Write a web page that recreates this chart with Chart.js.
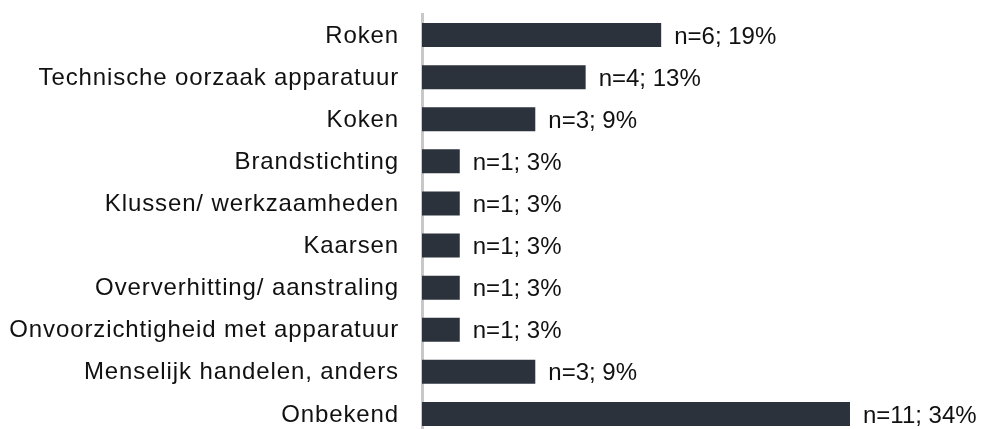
<!DOCTYPE html>
<html>
<head>
<meta charset="utf-8">
<script src="https://cdn.jsdelivr.net/npm/chart.js@4.4.0/dist/chart.umd.min.js"></script>
<style>
  html, body { margin: 0; padding: 0; background: #ffffff; overflow: hidden; }
  #wrap { position: relative; width: 984px; height: 440px; }
</style>
</head>
<body>
<div id="wrap"><canvas id="c" width="984" height="440"></canvas></div>
<script>
const categories = [
  "Roken",
  "Technische oorzaak apparatuur",
  "Koken",
  "Brandstichting",
  "Klussen/ werkzaamheden",
  "Kaarsen",
  "Oververhitting/ aanstraling",
  "Onvoorzichtigheid met apparatuur",
  "Menselijk handelen, anders",
  "Onbekend"
];
const counts = [6, 4, 3, 1, 1, 1, 1, 1, 3, 11];
const percentages = [19, 13, 9, 3, 3, 3, 3, 3, 9, 34];

const FONT = "'Liberation Sans', Arial, sans-serif";

const spacing = {
  id: 'spacing',
  beforeDraw(chart) { chart.ctx.letterSpacing = '0.88px'; },
  afterDraw(chart) { chart.ctx.letterSpacing = '0px'; }
};

const valueLabels = {
  id: 'valueLabels',
  afterDatasetsDraw(chart) {
    const ctx = chart.ctx;
    const meta = chart.getDatasetMeta(0);
    ctx.save();
    ctx.letterSpacing = '0px';
    ctx.font = "24px " + FONT;
    ctx.fillStyle = "#111111";
    ctx.textAlign = "left";
    ctx.textBaseline = "middle";
    meta.data.forEach((bar, i) => {
      ctx.fillText("n=" + counts[i] + "; " + percentages[i] + "%", bar.x + 13, bar.y + 2);
    });
    ctx.restore();
  }
};

new Chart(document.getElementById('c'), {
  type: 'bar',
  data: {
    labels: categories,
    datasets: [{
      data: percentages,
      backgroundColor: '#2c323c',
      borderWidth: 0,
      categoryPercentage: 1.0,
      barPercentage: 0.57
    }]
  },
  options: {
    indexAxis: 'y',
    responsive: false,
    animation: false,
    events: [],
    layout: { padding: { top: 14, bottom: 5, left: 0, right: 61 } },
    plugins: { legend: { display: false }, tooltip: { enabled: false } },
    scales: {
      x: {
        display: false, min: 0, max: 39.8,
        afterFit(s) { s.paddingLeft = 0; s.paddingRight = 0; }
      },
      y: {
        afterFit(s) { s.width = 422; s.paddingTop = 0; s.paddingBottom = 0; },
        grid: { display: false, drawTicks: false },
        border: { display: true, color: '#c8c8c8', width: 3 },
        ticks: { color: '#111111', font: { family: FONT, size: 24 }, padding: 23, labelOffset: 1 }
      }
    }
  },
  plugins: [spacing, valueLabels]
});
</script>
</body>
</html>
